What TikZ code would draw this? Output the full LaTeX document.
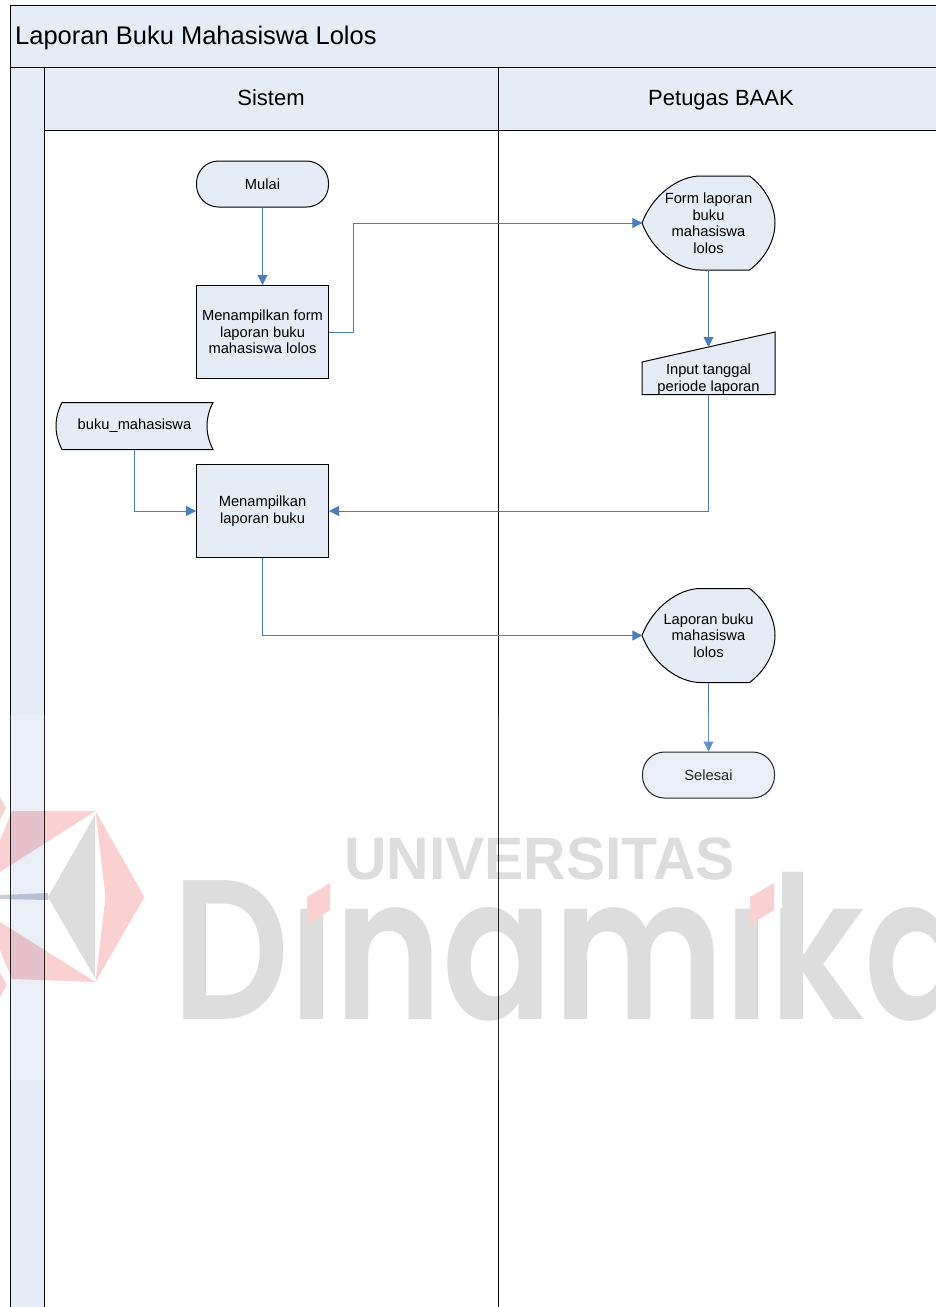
\documentclass[tikz,border=0pt]{standalone}
\usepackage{fontspec}
\setmainfont{Liberation Sans}
\newfontfamily\logofont{Poppins SemiBold}
\usetikzlibrary{arrows.meta}
\pgfdeclarelayer{background}
\pgfdeclarelayer{shapes}
\pgfdeclarelayer{foreground}
\pgfsetlayers{background,shapes,main,foreground}
\definecolor{lanefill}{HTML}{E6ECF6}
\definecolor{flowblue}{HTML}{4A7EBB}
\definecolor{logogray}{HTML}{DDDDDD}
\definecolor{logopink}{HTML}{FBD0D2}
\definecolor{logoslate}{HTML}{C9CFD8}
\tikzset{
	lane/.style={draw=black,line width=1pt,fill=lanefill},
	flow/.style={draw=flowblue,line width=1pt,-{Triangle[length=10pt,width=10pt]}},
	label text/.style={font=\fontsize{14.7}{16.5}\selectfont,align=center,inner sep=0pt},
	process/.style={label text,draw=black,line width=1pt,fill=lanefill,minimum width=132pt,minimum height=93pt},
	terminal/.style={label text,draw=black,line width=1pt,fill=lanefill,rounded corners=22pt,minimum width=132pt,minimum height=46pt},
	plain box/.style={label text,minimum width=132pt},
	outline/.style={draw=black,line width=1pt,fill=lanefill}
}
\begin{document}
\begin{tikzpicture}[x=1pt,y=-1pt]
	\useasboundingbox (0,0) rectangle (936,1307);

\begin{pgfonlayer}{background}
	\path[fill=white] (0,0) rectangle (936,1307);
	\draw[lane] (10.2,5) -- (936,5) -- (936,67) -- (10.2,67) -- cycle;
	\draw[lane] (10.2,67) rectangle (44.2,1320);
	\draw[lane] (44.2,67) rectangle (498.2,130);
	\draw[lane] (498.2,67) rectangle (950,130);
	\draw[draw=black,line width=1pt] (498.2,130) -- (498.2,1320);
\end{pgfonlayer}

	\node[anchor=base west,inner sep=0pt,font=\fontsize{25.5}{28}\selectfont] (title) at (15,44.5) {Laporan Buku Mahasiswa Lolos};
	\node[anchor=base,font=\fontsize{22}{24}\selectfont,inner sep=0pt] (sistem) at (271,105) {Sistem};
	\node[anchor=base,font=\fontsize{22}{24}\selectfont,inner sep=0pt] (petugas) at (721,105) {Petugas BAAK};

	\node[terminal] (mulai) at (262.5,184) {Mulai};
	\node[process] (menform) at (262.5,332) {Menampilkan form\\laporan buku\\mahasiswa lolos};
	\node[label text,minimum width=157pt,minimum height=47pt] (bukumhs) at (134.5,426) {buku\_mahasiswa};
	\node[process] (menlap) at (262.5,511) {Menampilkan\\laporan buku};
	\node[plain box,minimum height=94pt] (formlap) at (708.5,223) {Form laporan\\buku\\mahasiswa\\lolos};
	\node[plain box,minimum height=32pt] (input) at (708.5,379) {Input tanggal\\periode laporan};
	\node[plain box,minimum height=94pt] (laplolos) at (708.5,635.5) {Laporan buku\\mahasiswa\\lolos};
	\node[terminal] (selesai) at (708.5,775) {Selesai};

\begin{pgfonlayer}{shapes}
	\foreach \n in {formlap,laplolos}
		\draw[outline,shift={(\n.center)}] (-8,-47) -- (41,-47)
			.. controls (56,-36) and (66.5,-18) .. (66.5,0)
			.. controls (66.5,18) and (56,36) .. (41,47) -- (-8,47)
			.. controls (-30,47) and (-56,28) .. (-66.5,0)
			.. controls (-56,-28) and (-30,-47) .. (-8,-47) -- cycle;
	\draw[outline,shift={(input.center)}] (-66.5,-17) -- (66.5,-47) -- (66.5,15.5) -- (-66.5,15.5) -- cycle;
	\draw[outline,shift={(bukumhs.center)}] (-72.5,-23.5) -- (78.5,-23.5)
		.. controls (70.5,-8) and (70.5,8) .. (78.5,23.5) -- (-72.5,23.5)
		.. controls (-80.5,8) and (-80.5,-8) .. (-72.5,-23.5) -- cycle;
\end{pgfonlayer}

	\coordinate (inputtop) at ([yshift=32pt]input.center);
	\coordinate (jog) at (353.5,280);

	\draw[flow] (mulai) -- (menform);
	\draw[flow] (menform.east) -| (jog) |- (formlap.west);
	\draw[flow] (formlap.south) -- (inputtop);
	\draw[flow] (input.south) |- (menlap.east);
	\draw[flow] (bukumhs.south) |- (menlap.west);
	\draw[flow] (menlap.south) |- (laplolos.west);
	\draw[flow] (laplolos.south) -- (selesai.north);

\begin{pgfonlayer}{foreground}
	\path[fill=white,opacity=.15] (0,715) rectangle (936,1080);
	\begin{scope}[blend mode=multiply]
		\fill[logopink] (95.5,811) -- (144.5,897) -- (95.5,982) -- (105.5,897) -- cycle;
		\fill[logopink] (95.5,811) -- (12,811) -- (0,840) -- (0,872) -- cycle;
		\fill[logopink] (95.5,982) -- (12,979) -- (0,950) -- (0,922) -- cycle;
		\fill[logopink] (0,797) -- (6,808) -- (0,820) -- cycle;
		\fill[logopink] (0,973) -- (7,985) -- (0,997) -- cycle;
		\fill[logogray] (95,815) -- (48,897) -- (95,978) -- cycle;
		\fill[logoslate] (0,895) -- (48,893) -- (48,900) -- (0,899) -- cycle;
		\node[inner sep=0pt,anchor=base west,text=logogray] (dinamika) at (172,1019) {\scalebox{.82}[1]{\logofont\fontsize{199}{199}\selectfont Dinamika}};
	\end{scope}
	\fill[white] (297,860) rectangle (340,908);
	\fill[white] (728,860) rectangle (782,908);
	\fill[logopink] (307,897) -- (330,883) -- (330,910) -- (307,925) -- cycle;
	\fill[logopink] (750,897) -- (774,883) -- (774,910) -- (750,925) -- cycle;
	\begin{scope}[blend mode=multiply]
		\node[inner sep=0pt,anchor=base west,text=logogray] (univ) at (344,879) {\scalebox{.98}[1]{\bfseries\fontsize{60}{60}\selectfont UNIVERSITAS}};
	\end{scope}
\end{pgfonlayer}
\end{tikzpicture}
\end{document}
